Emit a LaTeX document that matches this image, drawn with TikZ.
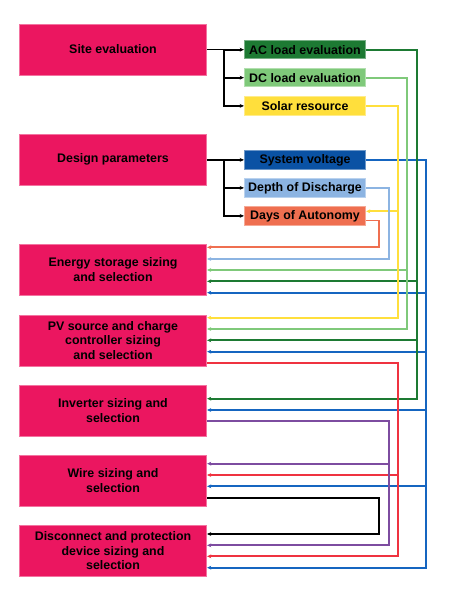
\documentclass[tikz,border=0pt]{standalone}
\usepackage{fontspec}
\setmainfont{Liberation Sans}
\usetikzlibrary{arrows.meta}
\definecolor{pinkbox}{HTML}{EB1660}
\definecolor{acg}{HTML}{1D7A33}
\definecolor{dcg}{HTML}{7FC97A}
\definecolor{sol}{HTML}{FFDF3C}
\definecolor{sysv}{HTML}{0A52A4}
\definecolor{sysl}{HTML}{1565C0}
\definecolor{dod}{HTML}{8CB4E2}
\definecolor{aut}{HTML}{EF6F50}
\definecolor{redl}{HTML}{EF3340}
\definecolor{purl}{HTML}{7D4CA0}
\begin{document}
\begin{tikzpicture}[x=1bp,y=-1bp,
  font=\fontsize{12.4bp}{14.7bp}\selectfont\bfseries,
  bigbox/.style={fill=pinkbox,draw=pinkbox!60!white,line width=0.7bp,minimum width=187.4bp,minimum height=51bp,inner sep=0pt,align=center,text=black},
  smallbox/.style={fill=#1,draw=#1!60!white,minimum width=121.4bp,minimum height=18.3bp,inner sep=0pt,line width=0.7bp,text=black},
  conn/.style={line width=1.7bp},
  arr/.style={conn,-{Stealth[length=4.2bp,width=3.8bp]}},
]
\useasboundingbox (0,0) rectangle (450,600);

% main boxes
\node[bigbox] (site) at (113,49.5) {Site evaluation};
\node[bigbox] (design) at (113,159.7) {Design parameters};
\node[bigbox] (energy) at (113,269.8) {Energy storage sizing\\and selection};
\node[bigbox] (pv) at (113,340.5) {PV source and charge\\controller sizing\\and selection};
\node[bigbox] (inv) at (113,410.5) {Inverter sizing and\\selection};
\node[bigbox] (wire) at (113,480.5) {Wire sizing and\\selection};
\node[bigbox] (disc) at (113,550.8) {Disconnect and protection\\device sizing and\\selection};

% small boxes
\node[smallbox=acg] (ac) at (305,49.7) {AC load evaluation};
\node[smallbox=dcg] (dc) at (305,77.7) {DC load evaluation};
\node[smallbox=sol] (solar) at (305,105.9) {Solar resource};
\node[smallbox=sysv] (sv) at (305,159.9) {System voltage};
\node[smallbox=dod] (depth) at (305,187.9) {Depth of Discharge};
\node[smallbox=aut] (days) at (305,215.9) {Days of Autonomy};

% left trunks
\coordinate (tA) at (224,0);
\draw[arr] (site.east) -- (site.east -| tA) |- (ac.west);
\draw[arr] (site.east) -- (site.east -| tA) |- (dc.west);
\draw[arr] (site.east) -- (site.east -| tA) |- (solar.west);
\draw[arr] (design.east) -- (design.east -| tA) |- (sv.west);
\draw[arr] (design.east) -- (design.east -| tA) |- (depth.west);
\draw[arr] (design.east) -- (design.east -| tA) |- (days.west);

% vertical line positions
\coordinate (xSal) at (379.3,0);
\coordinate (xDod) at (388.7,0);
\coordinate (xSol) at (398.3,0);
\coordinate (xDC) at (407.3,0);
\coordinate (xAC) at (416.7,0);
\coordinate (xSV) at (426.3,0);

% exits and entries
\coordinate (dOut) at ([yshift=-4.7bp]days.east);
\coordinate (dIn) at ([yshift=4.6bp]days.east);
\coordinate (pvOut) at ([yshift=-22.5bp]pv.east);
\coordinate (invOut) at ([yshift=-10.8bp]inv.east);
\coordinate (wiOut) at ([yshift=-17.2bp]wire.east);

\coordinate (en1) at ([yshift=22.5bp]energy.east);
\coordinate (en2) at ([yshift=10.8bp]energy.east);
\coordinate (en3) at ([yshift=-0.2bp]energy.east);
\coordinate (en4) at ([yshift=-11.5bp]energy.east);
\coordinate (en5) at ([yshift=-22.9bp]energy.east);
\coordinate (pv1) at ([yshift=22.8bp]pv.east);
\coordinate (pv2) at ([yshift=11.5bp]pv.east);
\coordinate (pv3) at ([yshift=0.2bp]pv.east);
\coordinate (pv4) at ([yshift=-11.2bp]pv.east);
\coordinate (in1) at ([yshift=11.8bp]inv.east);
\coordinate (in2) at ([yshift=0.5bp]inv.east);
\coordinate (wi1) at ([yshift=16.8bp]wire.east);
\coordinate (wi2) at ([yshift=5.5bp]wire.east);
\coordinate (wi3) at ([yshift=-5.8bp]wire.east);
\coordinate (di1) at ([yshift=16.8bp]disc.east);
\coordinate (di2) at ([yshift=5.5bp]disc.east);
\coordinate (di3) at ([yshift=-5.5bp]disc.east);
\coordinate (di4) at ([yshift=-16.9bp]disc.east);

% system voltage (blue)
\draw[arr,sysl] (sv.east) -- (sv.east -| xSV) |- (en5);
\draw[arr,sysl] (sv.east) -- (sv.east -| xSV) |- (pv4);
\draw[arr,sysl] (sv.east) -- (sv.east -| xSV) |- (in2);
\draw[arr,sysl] (sv.east) -- (sv.east -| xSV) |- (wi3);
\draw[arr,sysl] (sv.east) -- (sv.east -| xSV) |- (di4);
% AC load (dark green)
\draw[arr,acg] (ac.east) -- (ac.east -| xAC) |- (en4);
\draw[arr,acg] (ac.east) -- (ac.east -| xAC) |- (pv3);
\draw[arr,acg] (ac.east) -- (ac.east -| xAC) |- (in1);
% DC load (light green)
\draw[arr,dcg] (dc.east) -- (dc.east -| xDC) |- (en3);
\draw[arr,dcg] (dc.east) -- (dc.east -| xDC) |- (pv2);
% solar (yellow)
\draw[arr,sol] (solar.east) -- (solar.east -| xSol) |- (dIn);
\draw[arr,sol] (solar.east) -- (solar.east -| xSol) |- (pv1);
% depth (light blue)
\draw[arr,dod] (depth.east) -- (depth.east -| xDod) |- (en2);
% days (salmon)
\draw[arr,aut] (dOut) -- (dOut -| xSal) |- (en1);
% PV -> red
\draw[arr,redl] (pvOut) -- (pvOut -| xSol) |- (wi2);
\draw[arr,redl] (pvOut) -- (pvOut -| xSol) |- (di3);
% inverter -> purple
\draw[arr,purl] (invOut) -- (invOut -| xDod) |- (wi1);
\draw[arr,purl] (invOut) -- (invOut -| xDod) |- (di2);
% wire -> black
\draw[arr,black] (wiOut) -- (wiOut -| xSal) |- (di1);
\end{tikzpicture}
\end{document}
